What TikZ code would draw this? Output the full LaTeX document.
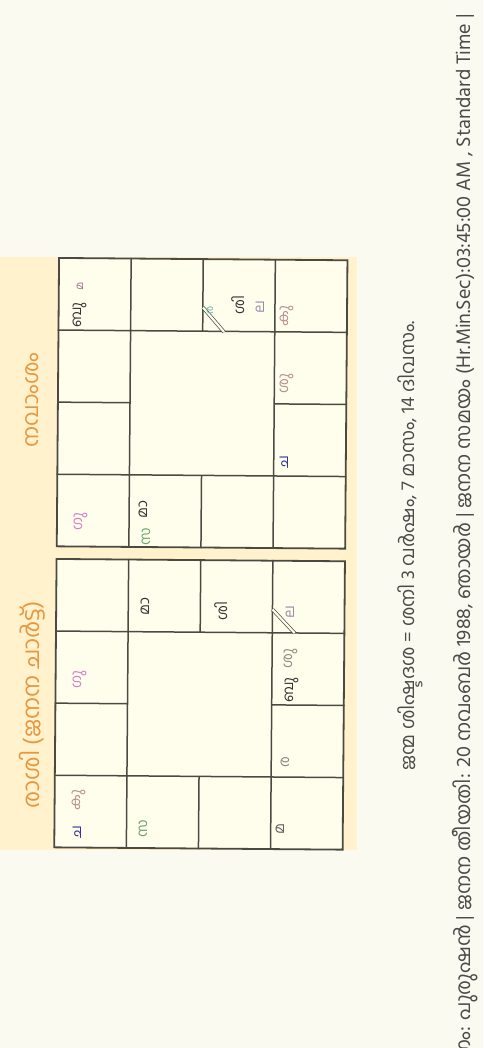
\documentclass[tikz,border=0pt]{standalone}
\usepackage{fontspec}
\setmainfont[Script=Malayalam]{Hind Kochi}
\definecolor{pagebg}{HTML}{FAFAF0}
\definecolor{panelc}{HTML}{FFF2CC}
\definecolor{cellc}{HTML}{FFFEEC}
\definecolor{linec}{HTML}{4A4A42}
\definecolor{titlec}{HTML}{E8973E}
\definecolor{textc}{HTML}{4A4A4A}
\definecolor{pdark}{HTML}{333333}
\definecolor{pgray}{HTML}{8C8C84}
\definecolor{ppink}{HTML}{D27EC8}
\definecolor{pblue}{HTML}{34349A}
\definecolor{pteal}{HTML}{6EB8B0}
\definecolor{pgreen}{HTML}{6CA86C}
\definecolor{ppurple}{HTML}{9C8AAA}
\definecolor{pbrown}{HTML}{B88E8E}
\definecolor{pmauve}{HTML}{A07094}
\tikzset{
  gridl/.style={draw=linec, line width=1.5pt, line cap=rect},
  outerl/.style={draw=linec, line width=1.8pt, line join=miter},
  lagnamark/.style={draw=linec, line width=0.7pt, double=cellc, double distance=2.2pt},
  pl/.style={rotate=90, font=\fontsize{14.5}{16}\selectfont, inner sep=0pt, anchor=center},
  plsmall/.style={pl, font=\fontsize{11}{13}\selectfont},
  titletext/.style={rotate=90, text=titlec, font=\fontsize{23}{26}\selectfont, inner sep=0pt},
  infotext/.style={rotate=90, text=textc, font=\fontsize{19}{22}\selectfont, inner sep=0pt},
  chartpic/.pic={
    \begin{scope}[x=72.1pt,y=-72.1pt]
      \fill[cellc] (-2,-2) rectangle (2,2);
      \draw[gridl] (-2,-1) -- (2,-1) (-2,1) -- (2,1) (-1,-2) -- (-1,2) (1,-2) -- (1,2)
        (-2,0) -- (-1,0) (1,0) -- (2,0) (0,-2) -- (0,-1) (0,1) -- (0,2);
      \draw[outerl] (-2,-2) rectangle (2,2);
    \end{scope}
  }
}
\begin{document}
\begin{tikzpicture}[x=1pt,y=-1pt]
\useasboundingbox (0,0) rectangle (483,1048);
\fill[pagebg] (0,0) rectangle (483,1048);
\fill[panelc] (0,257) rectangle (357,850);
% charts
\pic[rotate=-0.46] at (202.1,403.3) {chartpic};
\pic[rotate=-0.46] at (199.6,704.3) {chartpic};
% lagna markers
\coordinate (nla) at (203,307.5);
\coordinate (nlb) at (224,332);
\coordinate (rla) at (272.5,609.5);
\coordinate (rlb) at (294.5,633);
\draw[lagnamark] (nla) -- (nlb);
\draw[lagnamark] (rla) -- (rlb);
% titles
\node[titletext] (trasi) at (32,705) {രാശി (ജനന ചാർട്ട്)};
\node[titletext, font=\fontsize{22}{25}\selectfont] (tnav) at (32,400) {നവാംശം};
% Rasi planets
\node[pl, text=pdark] (rma) at (145,607) {മാ};
\node[pl, text=pdark] (rsi) at (221,611) {ശി};
\node[pl, text=ppurple] (rlg) at (290,612) {ല};
\node[pl, text=pgray] (rsu) at (291,659) {ശു};
\node[pl, text=pdark] (rbu) at (292,690) {ബു};
\node[pl, text=ppink] (rgu) at (80,680) {ഗു};
\node[pl, text=pgray] (rra) at (285,762) {ര};
\node[pl, text=pbrown] (rku) at (79,800) {കു};
\node[pl, text=pblue] (rca) at (77,832) {ച};
\node[pl, text=pgreen!70!gray] (rsa) at (143,829) {സ};
\node[pl, text=pdark!80] (rmn) at (280,829) {മ};
% Navamsa planets
\node[plsmall, text=pmauve] (nmn) at (80,286) {മ};
\node[pl, text=pdark] (nbu) at (80,315) {ബു};
\node[plsmall, text=pteal] (nra) at (210,310) {ര};
\node[pl, text=pdark] (nsi) at (238,305) {ശി};
\node[pl, text=ppurple] (nlg) at (260,307) {ല};
\node[pl, text=pbrown] (nku) at (287,316) {കു};
\node[pl, text=pbrown] (nsu) at (287,384) {ശു};
\node[pl, text=pblue] (nca) at (284,462) {ച};
\node[pl, text=ppink] (ngu) at (81,522) {ഗു};
\node[pl, text=pdark] (nma) at (143,510) {മാ};
\node[pl, text=pgreen] (nsa) at (146,537) {സ};
% info lines
\node[infotext] (dasa) at (410,546) {ജന്മ ശിഷ്ടദശ = ശനി 3 വർഷം, 7 മാസം, 14 ദിവസം.};
\node[infotext, font=\fontsize{20}{23}\selectfont, anchor=east] (birth) at (465,14) {ലിംഗം: പുരുഷൻ | ജനന തീയതി: 20 നവംബർ 1988, ഞായർ | ജനന സമയം (Hr.Min.Sec):03:45:00 AM , Standard Time |};
\end{tikzpicture}
\end{document}
